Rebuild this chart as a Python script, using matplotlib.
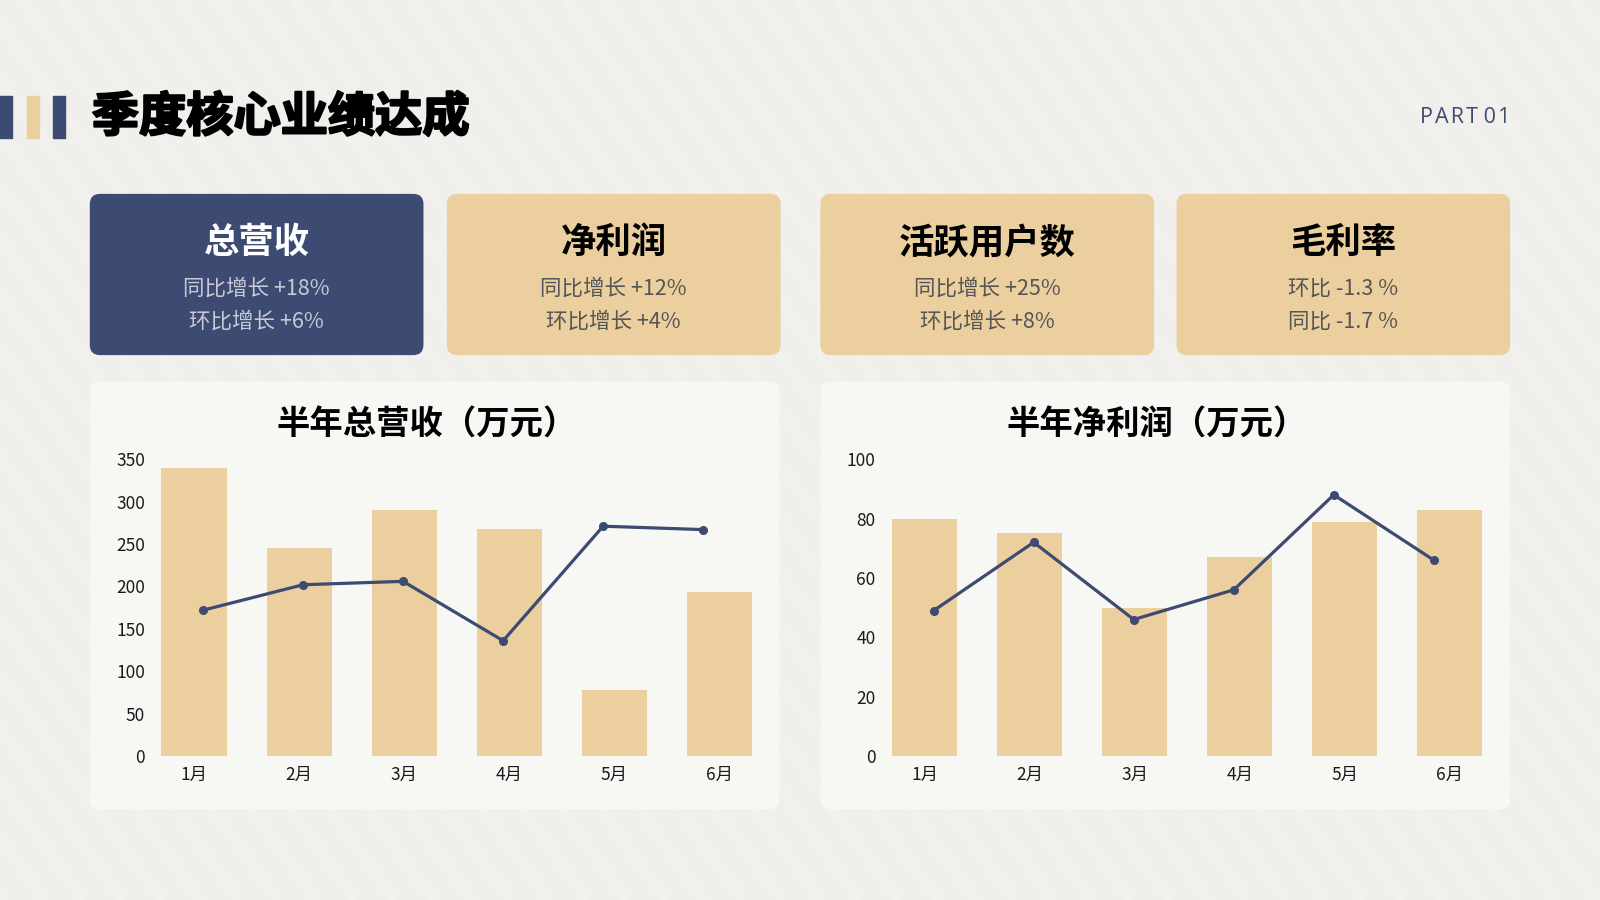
import matplotlib
matplotlib.use("Agg")
import matplotlib.pyplot as plt
import matplotlib.patheffects as pe
from matplotlib.patches import FancyBboxPatch, Rectangle
import numpy as np

plt.rcParams['font.family'] = ['Noto Sans CJK SC', 'DejaVu Sans']

NAVY = "#3d4a72"
TAN = "#ebcf9e"

# data
months = ["1月", "2月", "3月", "4月", "5月", "6月"]
revenue_bars = [340, 245, 290, 268, 78, 193]
revenue_line = [172, 202, 206, 136, 271, 267]
profit_bars = [80, 75, 50, 67, 79, 83]
profit_line = [49, 72, 46, 56, 88, 66]

card_titles = ["总营收", "净利润", "活跃用户数", "毛利率"]
card_line1 = ["同比增长 +18%", "同比增长 +12%", "同比增长 +25%", "环比 -1.3 %"]
card_line2 = ["环比增长 +6%", "环比增长 +4%", "环比增长 +8%", "同比 -1.7 %"]

W, H = 1568, 882
fig = plt.figure(figsize=(16, 9), dpi=100)
fig.patch.set_facecolor("#f0efeb")

# background layer in reference pixel coords
bg = fig.add_axes([0, 0, 1, 1], zorder=-5)
bg.set_xlim(0, W)
bg.set_ylim(H, 0)
bg.axis("off")

# soft diagonal stripes
for x0 in range(-700, 1700, 38):
    bg.plot([x0, x0 + 630], [0, H], color="white", lw=6, alpha=0.16,
            solid_capstyle="butt", zorder=0)

# decorative marks left of the title
for x, c in [(0, NAVY), (26, TAN), (52, NAVY)]:
    bg.add_patch(Rectangle((x, 94), 12, 41, color=c, zorder=3))

fig.text(90 / W, 1 - 115 / H, "季度核心业绩达成", fontsize=34, fontweight="black",
         color="black", ha="left", va="center",
         path_effects=[pe.withStroke(linewidth=1.6, foreground="black")])
fig.text(1480 / W, 1 - 115 / H, "P\u200aA\u200aR\u200aT 0\u200a1",
         fontsize=15.5, color=NAVY, ha="right", va="center",
         family=["Open Sans", "DejaVu Sans"])

# cards
card_x = [88, 438, 804, 1153]
for i, x in enumerate(card_x):
    face = NAVY if i == 0 else TAN
    bg.add_patch(FancyBboxPatch((x, 190), 327, 158,
                                boxstyle="round,pad=0,rounding_size=10",
                                fc=face, ec="none", zorder=3))
    cx = (x + 163.5) / W
    tcol = "white" if i == 0 else "black"
    scol = "#c8cad6" if i == 0 else "#555555"
    fig.text(cx, 1 - 238 / H, card_titles[i], fontsize=25.5, fontweight="bold",
             color=tcol, ha="center", va="center")
    fig.text(cx, 1 - 283 / H, card_line1[i], fontsize=15.5, fontweight="light",
             color=scol, ha="center", va="center")
    fig.text(cx, 1 - 315 / H, card_line2[i], fontsize=15.5, fontweight="light",
             color=scol, ha="center", va="center")

# chart panels
for x in [88, 804]:
    bg.add_patch(FancyBboxPatch((x, 374), 676, 419,
                                boxstyle="round,pad=0,rounding_size=10",
                                fc="#f8f8f6", ec="none", alpha=0.9, zorder=3))


def chart(left_px, title, title_cx, bars, line, ymax, step):
    ax = fig.add_axes([left_px / W, 1 - 741 / H, 597 / W, 291 / H])
    ax.patch.set_alpha(0)
    x = np.arange(len(months))
    ax.bar(x, bars, width=0.62, color=TAN, zorder=2)
    ax.set_xlim(-0.4, 5.4)
    ax.set_ylim(0, ymax)
    ax.set_yticks(np.arange(0, ymax + 1, step))
    ax.set_xticks(x)
    ax.set_xticklabels(months)
    ax.tick_params(length=0, labelsize=12.5, labelcolor="#1a1a1a")
    ax.tick_params(axis="x", pad=7)
    ax.tick_params(axis="y", pad=5)
    for s in ax.spines.values():
        s.set_visible(False)

    # line series sits on its own category axis
    ax2 = ax.twiny()
    ax2.plot(x, line, color=NAVY, lw=2.3, marker="o", markersize=5.5, zorder=3)
    ax2.set_xlim(-0.51, 5.58)
    ax2.set_xticks([])
    for s in ax2.spines.values():
        s.set_visible(False)

    fig.text(title_cx / W, 1 - 417 / H, title, fontsize=24, fontweight="bold",
             color="black", ha="center", va="center")


chart(149, "半年总营收（万元）", 418, revenue_bars, revenue_line, 350, 50)
chart(865, "半年净利润（万元）", 1134, profit_bars, profit_line, 100, 20)

fig.savefig("out.png", dpi=100, facecolor=fig.get_facecolor())
